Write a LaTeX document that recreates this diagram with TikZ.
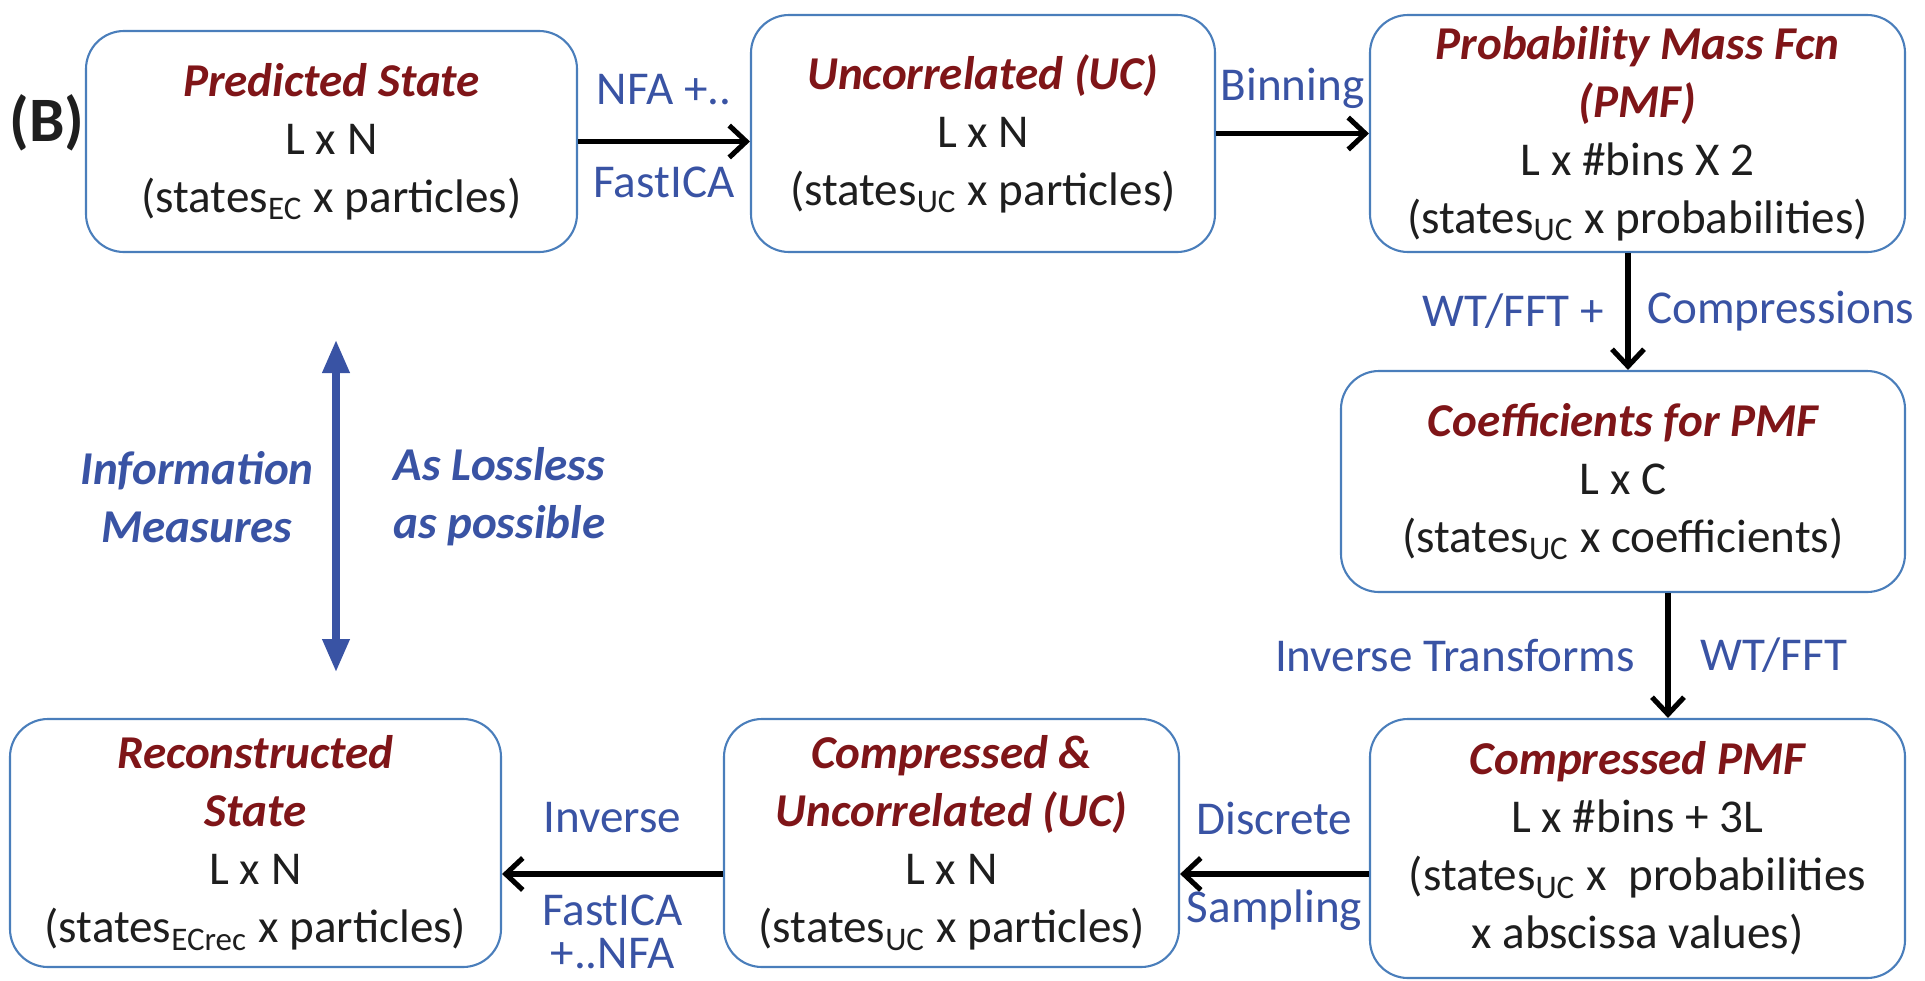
\documentclass[tikz,border=0pt]{standalone}
\usepackage{fontspec}
\setmainfont{Carlito}
\usepackage{tikz}
\usetikzlibrary{arrows.meta}
\definecolor{ttlred}{HTML}{7F1518}
\definecolor{lblblue}{HTML}{3953A4}
\definecolor{boxblue}{HTML}{4A7EBB}
\definecolor{txt}{HTML}{1E1E1E}
\newcommand{\sttl}[1]{{\color{ttlred}\bfseries\itshape #1}}

\begin{document}
\begin{tikzpicture}[font=\fontsize{13.4}{16.5}\selectfont, text=txt,
    stage/.style={draw=boxblue, line width=0.6pt, rounded corners=0.38cm, align=center, inner sep=0pt},
    flow/.style={-{Straight Barb[length=1.7mm,width=3.2mm]}, line width=1.45pt, black},
    lbl/.style={text=lblblue},
    info/.style={{Triangle[length=3.3mm,width=2.6mm]}-{Triangle[length=3.3mm,width=2.6mm]}, line width=2pt, lblblue}]
    \useasboundingbox (0,0) rectangle (19.25,9.8);

    \node[font=\fontsize{18}{21}\selectfont\bfseries] (tag) at (0.47,8.57) {(B)};

    \node[stage, minimum width=4.91cm, minimum height=2.21cm] (pred) at (3.315,8.385)
      {\sttl{Predicted State}\\ L x N\\ (states\textsubscript{EC} x particles)};
    \node[stage, minimum width=4.64cm, minimum height=2.37cm] (unc) at (9.83,8.465)
      {\sttl{Uncorrelated (UC)}\\ L x N\\ (states\textsubscript{UC} x particles)};
    \node[stage, minimum width=5.35cm, minimum height=2.37cm] (pmf) at (16.375,8.465)
      {\sttl{Probability Mass Fcn}\\ \sttl{(PMF)}\\ L x \#bins X 2\\ (states\textsubscript{UC} x probabilities)};
    \node[stage, minimum width=5.64cm, minimum height=2.21cm] (coef) at (16.23,4.985)
      {\sttl{Coefficients for PMF}\\ L x C\\ (states\textsubscript{UC} x coefficients)};
    \node[stage, minimum width=5.35cm, minimum height=2.59cm] (cpmf) at (16.375,1.315)
      {\sttl{Compressed PMF}\\ L x \#bins + 3L\\ (states\textsubscript{UC} x~ probabilities\\ x abscissa values)};
    \node[stage, minimum width=4.55cm, minimum height=2.48cm] (cuc) at (9.515,1.37)
      {\sttl{Compressed \&}\\ \sttl{Uncorrelated (UC)}\\ L x N\\ (states\textsubscript{UC} x particles)};
    \node[stage, minimum width=4.91cm, minimum height=2.48cm] (rec) at (2.555,1.37)
      {\sttl{Reconstructed}\\ \sttl{State}\\ L x N\\ (states\textsubscript{ECrec} x particles)};

    % forward chain
    \draw[flow] (pred.east) -- (pred.east -| unc.west)
      node[lbl, midway, yshift=0.515cm]{NFA +..} node[lbl, midway, yshift=-0.405cm]{FastICA};
    \draw[flow] (unc.east) -- (unc.east -| pmf.west)
      node[lbl, midway, yshift=0.455cm]{Binning};
    \coordinate (a3) at ([xshift=-0.95mm]pmf.south);
    \draw[flow] (a3) -- (a3 |- coef.north)
      node[lbl, midway, left=0.1cm]{WT/FFT +} node[lbl, midway, right=0.05cm]{Compressions};
    \coordinate (a4) at ([xshift=4.5mm]coef.south);
    \draw[flow] (a4) -- (a4 |- cpmf.north)
      node[lbl, midway, left=0.19cm]{Inverse Transforms} node[lbl, midway, right=0.18cm]{WT/FFT};

    % way back
    \coordinate (a5) at ([yshift=-3.1mm]cuc.east);
    \draw[flow] (a5 -| cpmf.west) -- (a5)
      node[lbl, midway, yshift=0.56cm]{Discrete} node[lbl, midway, yshift=-0.36cm]{Sampling};
    \coordinate (a6) at ([yshift=-3.1mm]cuc.west);
    \draw[flow] (a6) -- (a6 -| rec.east)
      node[lbl, midway, yshift=0.56cm]{Inverse}
      node[lbl, midway, yshift=-0.575cm, align=center, font=\fontsize{13.4}{12.2}\selectfont]{FastICA\\ +..NFA};

    % information measures
    \coordinate (itop) at (3.36,6.4);
    \coordinate (ibot) at (3.36,3.08);
    \draw[info] (itop) -- (ibot)
      node[midway, left=0.07cm, yshift=0.09cm, align=center, text=lblblue, font=\fontsize{13.4}{16.5}\selectfont\bfseries\itshape]{Information\\ Measures}
      node[midway, right=0.42cm, yshift=0.09cm, align=center, text=lblblue, font=\fontsize{13.4}{16.5}\selectfont\bfseries\itshape]{As Lossless\\ as possible};
\end{tikzpicture}
\end{document}
